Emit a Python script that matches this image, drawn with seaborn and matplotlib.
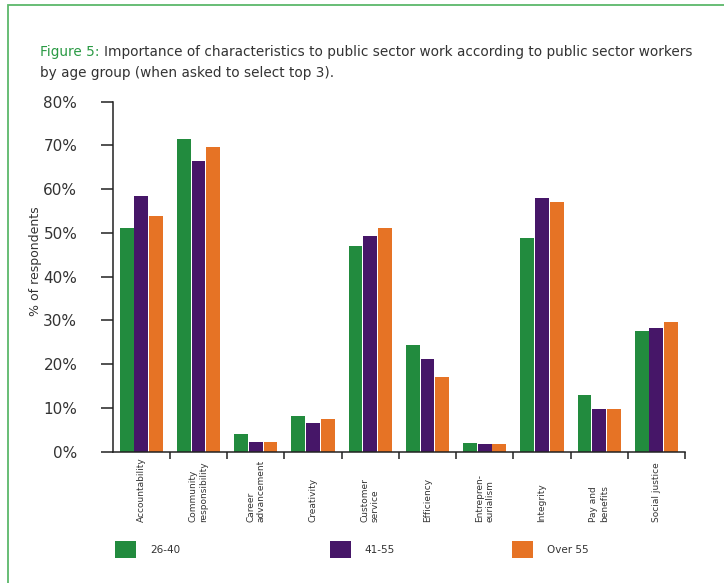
import numpy as np
import pandas as pd
import matplotlib.pyplot as plt
import seaborn as sns
from matplotlib.patches import Rectangle


characteristics = ['Accountability', 'Community\nresponsibility', 'Career\nadvancement',
                   'Creativity', 'Customer\nservice', 'Efficiency', 'Entrepren-\neurialism',
                   'Integrity', 'Pay and\nbenefits', 'Social justice']
age_groups = ['26-40', '41-55', 'Over 55']
pct_26_40 = [51.1, 71.5, 4.0, 8.2, 47.0, 24.4, 2.0, 48.8, 13.0, 27.6]
pct_41_55 = [58.4, 66.4, 2.2, 6.6, 49.3, 21.1, 1.8, 58.0, 9.8, 28.3]
pct_over_55 = [53.9, 69.6, 2.2, 7.4, 51.1, 17.1, 1.8, 57.1, 9.8, 29.7]
y_ticks = [0, 10, 20, 30, 40, 50, 60, 70, 80]
colors = ['#228b3e', '#461668', '#e67325']

df = pd.DataFrame({
    'characteristic': characteristics * 3,
    'age': np.repeat(age_groups, len(characteristics)),
    'pct': pct_26_40 + pct_41_55 + pct_over_55,
})

sns.set_theme(style='ticks')
plt.rcParams['font.family'] = ['DejaVu Sans']

W, H = 724, 583
fig = plt.figure(figsize=(W / 100, H / 100), dpi=100)
ax = fig.add_axes([112.7 / W, 1 - 451.7 / H, 572.3 / W, 350 / H])

sns.barplot(data=df, x='characteristic', y='pct', hue='age', hue_order=age_groups,
            order=characteristics, palette=dict(zip(age_groups, colors)), saturation=1,
            width=0.77, gap=0.06, linewidth=0, ax=ax)

handles, labels = ax.get_legend_handles_labels()
ax.get_legend().remove()

ax.set_xlim(-0.5, len(characteristics) - 0.5)
ax.set_ylim(0, 80)
ax.set_xlabel('')
ax.set_ylabel('% of respondents', fontsize=9, color='#333333')
ax.yaxis.set_label_coords(-0.1235, 0.543)

# category boundaries get the tick marks, labels sit at the centres
ax.tick_params(axis='x', which='major', length=0, pad=50.4)
ax.set_xticks(range(len(characteristics)))
ax.set_xticklabels(characteristics, rotation=90, va='bottom', ha='center',
                   multialignment='left', fontsize=6.5, color='#333333')
ax.set_xticks(np.arange(0.5, len(characteristics), 1), minor=True)
ax.tick_params(axis='x', which='minor', length=5, width=1.1, direction='out', color='#222222')

ax.set_yticks(y_ticks)
ax.set_yticklabels([f'{v}%' for v in y_ticks])
ax.tick_params(axis='y', length=9, width=1.1, pad=16.5, labelsize=11,
               labelcolor='#333333', color='#222222')

ax.spines[['top', 'right']].set_visible(False)
for side in ['left', 'bottom']:
    ax.spines[side].set_linewidth(1.1)
    ax.spines[side].set_color('#222222')

# title: green lead-in, then the rest placed right after it
lead = fig.text(40 / W, 1 - 56 / H, 'Figure 5:', color='#2a9a44', fontsize=9.8,
                va='baseline')
fig.canvas.draw()
lead_end = lead.get_window_extent().x1
fig.text((lead_end + 4) / W, 1 - 56 / H,
         'Importance of characteristics to public sector work according to public sector workers',
         color='#333333', fontsize=9.8, va='baseline')
fig.text(40 / W, 1 - 77 / H, 'by age group (when asked to select top 3).',
         color='#333333', fontsize=9.8, va='baseline')

# legend, one entry per column
for h, lab, xpx in zip(handles, labels, [115, 330, 512]):
    fig.legend([h], [lab], loc='center left', bbox_to_anchor=(xpx / W, 1 - 549.5 / H),
               frameon=False, fontsize=7.5, handlelength=2.0, handleheight=2.0,
               handletextpad=1.35, borderpad=0, borderaxespad=0, labelcolor='#333333')

fig.add_artist(Rectangle((7.5 / W, -0.1), 1.2, (H - 5) / H + 0.1, transform=fig.transFigure,
                         fill=False, edgecolor='#5cb86a', linewidth=1.3))

fig.savefig('out.png', dpi=100)
